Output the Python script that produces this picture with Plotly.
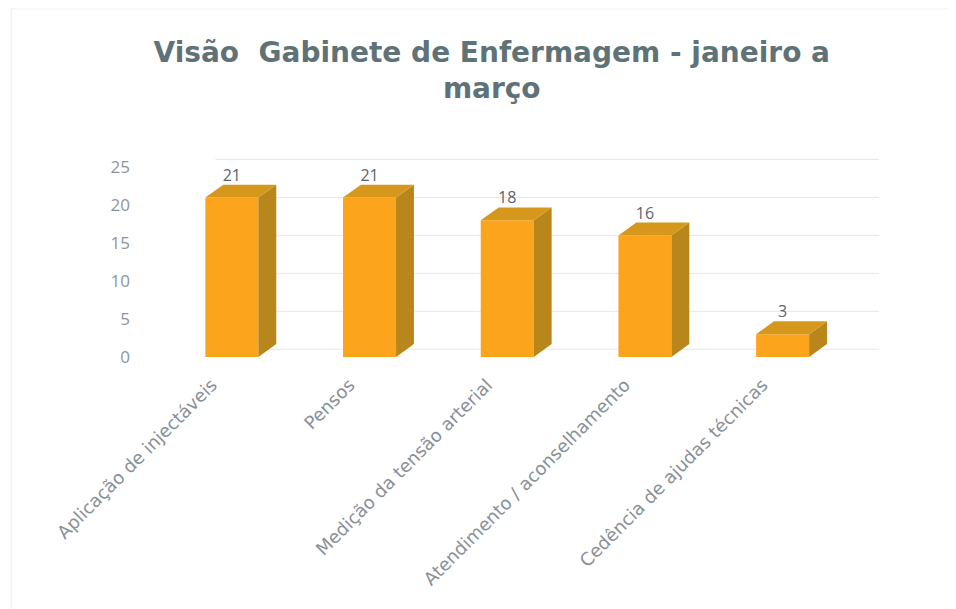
import plotly.graph_objects as go

categories = [
    "Aplicação de injectáveis",
    "Pensos",
    "Medição da tensão arterial",
    "Atendimento / aconselhamento",
    "Cedência de ajudas técnicas",
]
values = [21, 21, 18, 16, 3]
y_ticks = [0, 5, 10, 15, 20, 25]

title_text = "Visão  Gabinete de Enfermagem - janeiro a<br>março"

# styling / 3D pseudo-depth
bar_w = 0.385
dx = 0.13      # depth offset in category units
dy = 1.7       # depth offset in value units
c_front = "#FDA41D"
c_side = "#B8861A"
c_top = "#D6981C"

fig = go.Figure()

x_idx = list(range(len(categories)))

# gridlines (back wall), derived from tick values
for t in y_ticks:
    fig.add_shape(type="line", xref="x", yref="y",
                  x0=-0.12, x1=4.72, y0=t + dy * 0.6, y1=t + dy * 0.6,
                  line=dict(color="#E6E6E6", width=1), layer="below")

# front faces
fig.add_trace(go.Bar(x=x_idx, y=values, width=bar_w, marker=dict(color=c_front, line=dict(width=0)),
                     hoverinfo="x+y", showlegend=False))

# side and top faces
for i, v in zip(x_idx, values):
    x0 = i - bar_w / 2
    x1 = i + bar_w / 2
    fig.add_trace(go.Scatter(
        x=[x1, x1 + dx, x1 + dx, x1, x1], y=[0, dy, v + dy, v, 0],
        mode="lines", fill="toself", fillcolor=c_side, line=dict(width=0, color=c_side),
        hoverinfo="skip", showlegend=False))
    fig.add_trace(go.Scatter(
        x=[x0, x1, x1 + dx, x0 + dx, x0], y=[v, v, v + dy, v + dy, v],
        mode="lines", fill="toself", fillcolor=c_top, line=dict(width=0, color=c_top),
        hoverinfo="skip", showlegend=False))

# data labels
fig.add_trace(go.Scatter(
    x=x_idx, y=[v + dy for v in values], mode="text",
    text=[str(v) for v in values], textposition="top center",
    textfont=dict(family="Open Sans", size=16, color="#5A6470"),
    hoverinfo="skip", showlegend=False))

fig.update_layout(
    width=956, height=609,
    paper_bgcolor="white", plot_bgcolor="white",
    margin=dict(l=155, r=85, t=144, b=260, autoexpand=False),
    title=dict(text=title_text, x=0.506, xanchor="center", xref="container",
               y=0.912, yanchor="top", yref="container",
               font=dict(family="DejaVu Sans", size=28, color="#5E7278", weight="bold")),
    xaxis=dict(range=[-0.5, 4.7], tickmode="array", tickvals=x_idx, ticktext=categories,
               tickangle=-45, showgrid=False, zeroline=False, showline=False, ticks="",
               automargin=False, ticklabelshift=-20, ticklabelstandoff=13,
               tickfont=dict(family="DejaVu Sans", size=18, color="#8A9098")),
    yaxis=dict(range=[0, 27], tickmode="array", tickvals=y_ticks, showgrid=False,
               zeroline=False, showline=False, ticks="", automargin=False,
               ticklabelstandoff=32,
               tickfont=dict(family="Open Sans", size=17, color="#8C959D")),
    showlegend=False,
)

# faint outer chart border
fig.add_shape(type="rect", xref="paper", yref="paper", x0=-0.212, x1=1.15, y0=-1.4, y1=1.698,
              line=dict(color="#EFEFEF", width=1), layer="below")

fig.write_html("out.html")
